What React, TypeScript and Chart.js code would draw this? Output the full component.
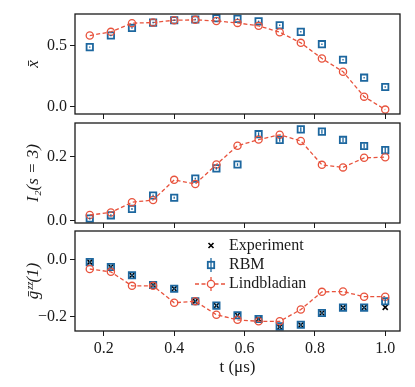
import React, { useEffect, useRef } from "react";
import { Chart, registerables } from "chart.js";
Chart.register(...registerables);

const tValues = [0.16, 0.22, 0.28, 0.34, 0.4, 0.46, 0.52, 0.58, 0.64, 0.7, 0.76, 0.82, 0.88, 0.94, 1.0];
const xTicks = [0.2, 0.4, 0.6, 0.8, 1.0];

const xbarRBM = [0.489, 0.584, 0.646, 0.69, 0.709, 0.715, 0.725, 0.72, 0.7, 0.668, 0.614, 0.513, 0.386, 0.239, 0.163];
const xbarRBMErr = [0.006, 0.006, 0.006, 0.006, 0.006, 0.006, 0.006, 0.006, 0.006, 0.006, 0.006, 0.006, 0.006, 0.006, 0.006];
const xbarLind = [0.584, 0.614, 0.685, 0.69, 0.709, 0.712, 0.703, 0.687, 0.663, 0.611, 0.524, 0.396, 0.288, 0.084, -0.022];
const xbarTicks = [0.0, 0.5];

const i2RBM = [0.006, 0.016, 0.036, 0.078, 0.071, 0.131, 0.163, 0.175, 0.27, 0.252, 0.285, 0.278, 0.252, 0.233, 0.22];
const i2RBMErr = [0.003, 0.003, 0.003, 0.003, 0.003, 0.003, 0.004, 0.004, 0.006, 0.006, 0.007, 0.007, 0.007, 0.008, 0.011];
const i2Lind = [0.017, 0.025, 0.057, 0.064, 0.127, 0.114, 0.175, 0.234, 0.253, 0.268, 0.249, 0.174, 0.166, 0.196, 0.198];
const i2Ticks = [0.0, 0.2];

const gzzExp = [-0.009, -0.026, -0.055, -0.089, -0.102, -0.146, -0.161, -0.195, -0.208, -0.236, -0.229, -0.187, -0.168, -0.168, -0.167];
const gzzRBM = [-0.009, -0.026, -0.055, -0.089, -0.102, -0.146, -0.161, -0.195, -0.208, -0.234, -0.228, -0.187, -0.168, -0.168, -0.146];
const gzzRBMErr = [0.005, 0.005, 0.005, 0.005, 0.005, 0.005, 0.005, 0.005, 0.005, 0.005, 0.005, 0.005, 0.005, 0.006, 0.01];
const gzzLind = [-0.033, -0.043, -0.092, -0.092, -0.151, -0.146, -0.193, -0.211, -0.216, -0.216, -0.175, -0.113, -0.112, -0.13, -0.13];
const gzzTicks = [-0.2, 0.0];

const legendLabels = ["Experiment", "RBM", "Lindbladian"];

const RED = "#e8533d";
const BLUE = "#1d679f";
const INK = "#1a1a1a";
const FONT = "'Liberation Serif', 'DejaVu Serif', serif";

const fmt = (v: number) => {
  const s = Math.abs(v) < 1e-9 ? "0.0" : v.toFixed(1);
  return s.replace("-", "\u2212");
};

const framePlugin = {
  id: "frame",
  afterDraw(chart: any) {
    const { ctx, chartArea: a } = chart;
    ctx.save();
    ctx.strokeStyle = INK;
    ctx.lineWidth = 1.3;
    ctx.strokeRect(a.left, a.top, a.right - a.left, a.bottom - a.top);
    ctx.restore();
  },
};

const errorBarPlugin = {
  id: "errbars",
  afterDatasetsDraw(chart: any) {
    const { ctx } = chart;
    chart.data.datasets.forEach((ds: any, i: number) => {
      if (!ds.errorBars) return;
      const meta = chart.getDatasetMeta(i);
      const ys = chart.scales.y;
      ctx.save();
      ctx.strokeStyle = ds.borderColor;
      ctx.lineWidth = 1.3;
      meta.data.forEach((el: any, j: number) => {
        const v = ds.data[j].y;
        const e = ds.errorBars[j];
        ctx.beginPath();
        ctx.moveTo(el.x, ys.getPixelForValue(v - e));
        ctx.lineTo(el.x, ys.getPixelForValue(v + e));
        ctx.stroke();
      });
      ctx.restore();
    });
  },
};

const legendPlugin = {
  id: "customLegend",
  afterDraw(chart: any) {
    const { ctx, chartArea: a } = chart;
    const hx = 211;
    const tx = 229;
    const ys = [a.top + 14.5, a.top + 34, a.top + 53];
    ctx.save();
    ctx.font = `16px ${FONT}`;
    ctx.fillStyle = INK;
    ctx.textBaseline = "middle";
    ctx.textAlign = "left";
    legendLabels.forEach((l, i) => ctx.fillText(l, tx, ys[i]));
    ctx.strokeStyle = "#000";
    ctx.lineWidth = 1.6;
    ctx.beginPath();
    ctx.moveTo(hx - 2.5, ys[0] - 2.5);
    ctx.lineTo(hx + 2.5, ys[0] + 2.5);
    ctx.moveTo(hx - 2.5, ys[0] + 2.5);
    ctx.lineTo(hx + 2.5, ys[0] - 2.5);
    ctx.stroke();
    ctx.strokeStyle = BLUE;
    ctx.lineWidth = 1.3;
    ctx.beginPath();
    ctx.moveTo(hx, ys[1] - 7);
    ctx.lineTo(hx, ys[1] + 7);
    ctx.stroke();
    ctx.lineWidth = 1.8;
    ctx.strokeRect(hx - 3.2, ys[1] - 3.2, 6.4, 6.4);
    ctx.strokeStyle = RED;
    ctx.lineWidth = 1.3;
    ctx.setLineDash([4, 2.5]);
    ctx.beginPath();
    ctx.moveTo(hx - 16, ys[2]);
    ctx.lineTo(hx + 16, ys[2]);
    ctx.stroke();
    ctx.setLineDash([]);
    ctx.beginPath();
    ctx.moveTo(hx, ys[2] - 7);
    ctx.lineTo(hx, ys[2] + 7);
    ctx.stroke();
    ctx.beginPath();
    ctx.fillStyle = "#fff";
    ctx.arc(hx, ys[2], 3.6, 0, Math.PI * 2);
    ctx.fill();
    ctx.stroke();
    ctx.restore();
  },
};

type PanelSpec = {
  top: number;
  height: number;
  padTop: number;
  xHeight: number;
  bottom: boolean;
  yMin: number;
  yMax: number;
  yTicks: number[];
  yTitle: string;
  rbm: number[];
  rbmErr: number[];
  lind: number[];
  exp?: number[];
  legend?: boolean;
};

const toPts = (arr: number[]) => arr.map((y, i) => ({ x: tValues[i], y }));

function buildConfig(p: PanelSpec): any {
  const datasets: any[] = [
    {
      label: "Lindbladian",
      data: toPts(p.lind),
      borderColor: RED,
      backgroundColor: "rgba(0,0,0,0)",
      borderWidth: 1.3,
      borderDash: [4, 2.5],
      pointStyle: "circle",
      pointRadius: 3.6,
      pointBorderWidth: 1.3,
      pointBorderColor: RED,
      pointBackgroundColor: "rgba(0,0,0,0)",
      showLine: true,
      tension: 0,
      clip: false,
    },
    {
      label: "RBM",
      data: toPts(p.rbm),
      errorBars: p.rbmErr,
      borderColor: BLUE,
      backgroundColor: "rgba(0,0,0,0)",
      showLine: false,
      pointStyle: "rect",
      pointRadius: 4.5,
      pointBorderWidth: 1.8,
      pointBorderColor: BLUE,
      pointBackgroundColor: "rgba(0,0,0,0)",
      clip: false,
    },
  ];
  if (p.exp) {
    datasets.push({
      label: "Experiment",
      data: toPts(p.exp),
      borderColor: "#000",
      backgroundColor: "#000",
      showLine: false,
      pointStyle: "crossRot",
      pointRadius: 3.6,
      pointBorderWidth: 1.6,
      clip: false,
    });
  }
  const plugins: any[] = [framePlugin, errorBarPlugin];
  if (p.legend) plugins.push(legendPlugin);
  return {
    type: "scatter",
    data: { datasets },
    plugins,
    options: {
      animation: false,
      responsive: false,
      maintainAspectRatio: false,
      events: [],
      layout: { padding: { top: p.padTop, left: 0, right: 15, bottom: 0 } },
      plugins: { legend: { display: false }, tooltip: { enabled: false } },
      scales: {
        x: {
          type: "linear",
          min: 0.118,
          max: 1.042,
          afterBuildTicks: (s: any) => {
            s.ticks = xTicks.map((v) => ({ value: v }));
          },
          afterFit: (s: any) => {
            s.height = p.xHeight;
            s.paddingLeft = 0;
            s.paddingRight = 0;
            s.paddingTop = 0;
            s.paddingBottom = 0;
          },
          border: { display: false },
          grid: {
            display: true,
            drawOnChartArea: false,
            drawTicks: true,
            tickLength: 5,
            color: INK,
            lineWidth: 1,
          },
          ticks: {
            display: p.bottom,
            padding: 3,
            color: INK,
            font: { family: FONT, size: 16 },
            callback: (v: any) => fmt(Number(v)),
            maxRotation: 0,
          },
          title: {
            display: p.bottom,
            text: "t (\u03bcs)",
            color: INK,
            font: { family: FONT, size: 17 },
            padding: { top: 0, bottom: 9 },
          },
        },
        y: {
          type: "linear",
          min: p.yMin,
          max: p.yMax,
          afterBuildTicks: (s: any) => {
            s.ticks = p.yTicks.map((v) => ({ value: v }));
          },
          afterFit: (s: any) => {
            s.width = 75;
            s.paddingTop = 0;
            s.paddingBottom = 0;
            s.paddingLeft = 0;
            s.paddingRight = 0;
          },
          border: { display: false },
          grid: {
            display: true,
            drawOnChartArea: false,
            drawTicks: true,
            tickLength: 5,
            color: INK,
            lineWidth: 1,
          },
          ticks: {
            padding: 3,
            color: INK,
            font: { family: FONT, size: 16 },
            callback: (v: any) => fmt(Number(v)),
          },
          title: {
            display: true,
            text: p.yTitle,
            color: INK,
            font: { family: FONT, size: 17, style: "italic" },
            padding: { top: 23, bottom: 0 },
          },
        },
      },
    },
  };
}

const panels: PanelSpec[] = [
  {
    top: 0, height: 121, padTop: 14, xHeight: 7, bottom: false,
    yMin: -0.058, yMax: 0.76, yTicks: xbarTicks, yTitle: "x\u0304",
    rbm: xbarRBM, rbmErr: xbarRBMErr, lind: xbarLind,
  },
  {
    top: 114, height: 116, padTop: 9, xHeight: 7, bottom: false,
    yMin: -0.008, yMax: 0.305, yTicks: i2Ticks, yTitle: "I\u2082(s = 3)",
    rbm: i2RBM, rbmErr: i2RBMErr, lind: i2Lind,
  },
  {
    top: 223, height: 164, padTop: 8, xHeight: 56, bottom: true,
    yMin: -0.25, yMax: 0.1, yTicks: gzzTicks, yTitle: "\u1e21\u1dbb\u1dbb(1)",
    rbm: gzzRBM, rbmErr: gzzRBMErr, lind: gzzLind, exp: gzzExp, legend: true,
  },
];

function Panel({ spec }: { spec: PanelSpec }) {
  const ref = useRef<HTMLCanvasElement | null>(null);
  useEffect(() => {
    if (!ref.current) return;
    const chart = new Chart(ref.current, buildConfig(spec));
    return () => chart.destroy();
  }, [spec]);
  return (
    <canvas
      ref={ref}
      width={415}
      height={spec.height}
      style={{ position: "absolute", left: 0, top: spec.top, width: 415, height: spec.height }}
    />
  );
}

export default function App() {
  return (
    <div style={{ position: "fixed", left: 0, top: 0, width: 415, height: 387, background: "#fff" }}>
      {panels.map((p, i) => (
        <Panel key={i} spec={p} />
      ))}
    </div>
  );
}
